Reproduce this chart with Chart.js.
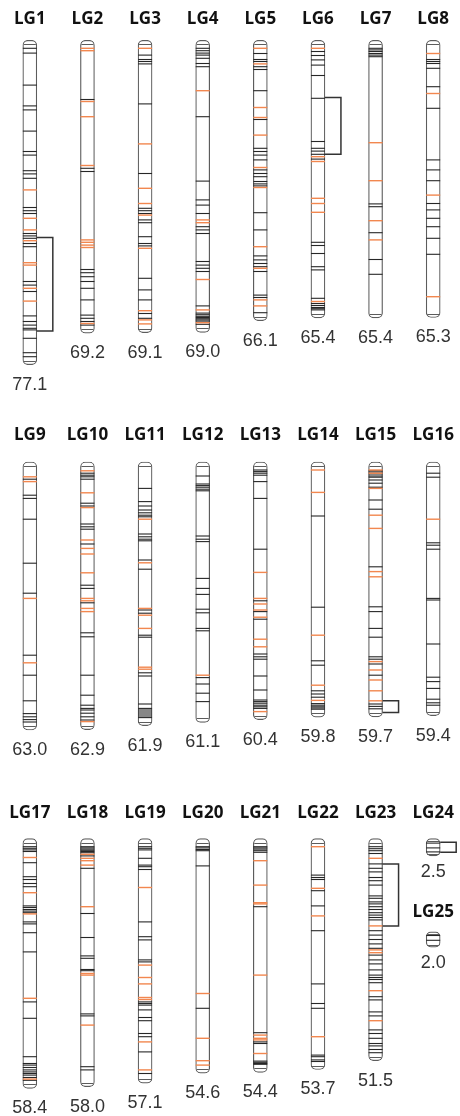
<!DOCTYPE html>
<html>
<head>
<meta charset="utf-8">
<script src="https://cdn.jsdelivr.net/npm/chart.js@4.4.1/dist/chart.umd.min.js"></script>
<style>
  html, body { margin: 0; padding: 0; background: #fff; overflow: hidden; }
  #wrap { position: relative; width: 460px; height: 1116px; overflow: hidden; }
  canvas { position: absolute; left: 0; }
</style>
</head>
<body>
<div id="wrap">
  <canvas id="row1" width="462" height="395" style="top:0px"></canvas>
  <canvas id="row2" width="462" height="375" style="top:395px"></canvas>
  <canvas id="row3" width="462" height="346" style="top:770px"></canvas>
</div>
<script>
// linkage groups, lengths in cM
const lgNames = ['LG1','LG2','LG3','LG4','LG5','LG6','LG7','LG8',
                 'LG9','LG10','LG11','LG12','LG13','LG14','LG15','LG16',
                 'LG17','LG18','LG19','LG20','LG21','LG22','LG23','LG24','LG25'];
const lgLengths = [77.1, 69.2, 69.1, 69.0, 66.1, 65.4, 65.4, 65.3,
                   63.0, 62.9, 61.9, 61.1, 60.4, 59.8, 59.7, 59.4,
                   58.4, 58.0, 57.1, 54.6, 54.4, 53.7, 51.5, 2.5, 2.0];

// marker positions (cM), black = ordinary loci
const blackLoci = [
  [0, 1.2, 9.2, 14.4, 15.4, 20.7, 25.8, 26.7, 30.6, 31.4, 32.5, 39.8, 40.6, 41.3, 46.3, 46.9, 47.5, 48.8, 49.6, 58.3, 59.2, 60.8, 66.9, 68.3, 69.2, 70.0, 70.4, 72.5, 76.1, 77.1],
  [12.8, 30.0, 30.8, 55.3, 56.1, 57.1, 58.3, 60.0, 62.9, 66.7, 67.5, 68.3, 69.2],
  [1.7, 2.8, 3.3, 3.9, 13.9, 31.3, 40.0, 40.6, 41.3, 42.9, 43.6, 47.1, 48.8, 49.4, 57.5, 60.4, 62.9, 66.3, 67.5],
  [0, 0.6, 1.2, 1.7, 2.5, 3.8, 4.6, 17.1, 33.2, 37.9, 39.2, 41.3, 44.6, 45.4, 46.3, 53.3, 54.2, 55.0, 55.8, 64.4, 66.2, 66.6, 67.0, 67.3, 67.6, 67.9, 68.2, 69.0],
  [1.3, 2.8, 3.3, 4.6, 5.3, 10.6, 17.8, 25.0, 25.8, 26.7, 27.9, 30.4, 31.3, 32.1, 33.3, 33.9, 34.4, 41.1, 45.4, 51.9, 52.9, 53.8, 54.6, 55.8, 61.7, 62.3, 66.1],
  [0.8, 1.8, 2.9, 4.2, 6.8, 12.5, 23.3, 25.0, 25.7, 26.5, 27.7, 48.5, 49.3, 51.3, 54.6, 55.4, 62.5, 63.8, 64.3, 64.8, 65.1, 65.4],
  [0, 0.4, 0.8, 1.3, 1.7, 2.1, 38.9, 39.6, 46.1, 52.8, 56.5],
  [2.8, 3.3, 3.8, 5.0, 9.6, 15.0, 27.9, 30.4, 33.1, 38.8, 40.4, 42.5, 44.6, 47.5, 51.5],
  [2.3, 6.3, 7.1, 12.3, 23.3, 30.8, 46.3, 51.3, 57.7, 60.9, 61.7, 62.4, 63.0],
  [0.8, 1.3, 1.7, 2.3, 8.3, 9.0, 13.5, 14.2, 14.8, 18.5, 28.8, 29.6, 33.2, 40.7, 41.7, 51.3, 56.3, 58.8, 59.6, 60.0, 60.8, 61.7, 62.5],
  [4.6, 7.9, 9.0, 10.0, 10.7, 11.3, 11.7, 16.0, 16.7, 17.3, 17.7, 22.5, 24.8, 35.0, 35.8, 41.3, 41.8, 50.7, 51.5, 58.5, 59.6, 60.0, 60.5, 61.0, 61.5, 61.9],
  [1.5, 3.5, 3.9, 4.3, 4.8, 5.2, 16.5, 17.3, 17.9, 27.1, 29.6, 31.1, 34.8, 35.7, 39.6, 40.2, 51.9, 53.5, 55.8, 57.9],
  [0, 0.4, 0.8, 1.3, 2.9, 7.1, 19.8, 32.7, 35.4, 37.3, 46.0, 46.7, 47.3, 51.5, 55.0, 57.5, 57.9, 58.3, 58.8, 59.2, 59.6],
  [11.5, 34.3, 47.7, 48.8, 55.2, 56.0, 56.8, 58.4, 58.8, 59.2, 59.5, 59.8],
  [0.2, 0.5, 1.0, 1.5, 1.8, 2.5, 3.3, 4.3, 7.5, 9.8, 24.2, 34.2, 35.4, 39.6, 41.8, 46.7, 47.3, 48.5, 51.3, 58.5, 59.1, 59.7],
  [0.8, 1.8, 18.2, 18.8, 19.8, 32.1, 32.5, 43.5, 51.8, 52.9, 54.6, 57.3, 58.2, 58.8],
  [0, 0.4, 0.8, 1.2, 4.0, 7.5, 8.2, 9.2, 10.0, 14.8, 15.2, 15.7, 16.1, 16.5, 18.8, 19.3, 21.5, 26.3, 38.8, 42.9, 52.5, 54.2, 54.6, 55.2, 55.8, 56.3, 56.7, 57.1, 57.7, 58.4],
  [0, 0.3, 0.6, 0.9, 1.2, 1.5, 2.3, 5.4, 16.7, 22.7, 27.3, 27.9, 30.7, 31.0, 41.8, 42.3, 55.0, 55.8],
  [0, 0.4, 0.8, 2.9, 4.6, 5.0, 5.7, 18.8, 22.5, 23.3, 28.3, 28.8, 38.8, 39.2, 39.6, 40.8, 42.7, 43.5, 46.7, 47.5, 51.3, 56.7],
  [0, 0.3, 0.7, 1.0, 4.8, 40.4],
  [0, 0.3, 0.6, 1.0, 1.4, 15.0, 46.5, 48.8, 49.2, 53.6, 53.9, 54.2, 54.4],
  [7.1, 7.7, 8.2, 11.0, 14.8, 21.0, 34.3, 39.2, 40.4, 52.1, 52.5, 53.3, 53.7],
  [0, 0.5, 1.0, 1.7, 4.3, 5.4, 6.3, 7.7, 8.5, 9.6, 12.3, 12.9, 13.8, 14.3, 15.0, 15.7, 16.5, 17.1, 17.7, 18.3, 21.0, 22.1, 23.2, 24.3, 25.4, 27.1, 28.3, 29.3, 30.8, 32.1, 32.7, 33.2, 34.0, 37.5, 38.3, 41.3, 42.3, 45.8, 46.7, 47.9, 49.2, 49.8, 50.7, 51.5],
  [0.2, 1.4, 2.4],
  [0, 1.2]
];

// orange loci
const orangeLoci = [
  [35.4, 42.5, 45.4, 48.1, 53.6, 54.2, 60.0, 63.2],
  [0, 0.6, 13.3, 17.1, 29.3, 47.9, 48.5, 49.2, 49.8, 68.8],
  [0, 23.9, 35.0, 38.8, 41.7, 50.0, 65.6, 67.9, 68.9],
  [10.6, 42.9, 43.6, 57.8, 65.4, 68.6],
  [0, 3.9, 14.8, 17.3, 21.7, 29.8, 34.8, 49.6, 55.0, 62.9, 64.4],
  [0, 27.1, 28.3, 37.5, 38.8, 41.0, 63.3],
  [23.6, 33.1, 43.1, 47.9],
  [1.3, 11.3, 36.7, 62.1],
  [1.7, 2.9, 32.1, 48.2],
  [0.2, 5.7, 9.4, 17.5, 19.6, 21.0, 25.7, 32.1, 32.7, 34.6, 35.4, 62.9],
  [12.3, 23.2, 34.6, 36.3, 39.6, 49.3, 49.8],
  [51.3],
  [25.6, 32.1, 33.5, 35.0, 36.8, 42.3, 44.2, 60.4],
  [0, 5.6, 41.3, 53.8, 57.6],
  [0, 0.8, 4.6, 11.3, 14.6, 25.4, 26.7, 47.9, 50.0, 52.5, 55.2, 57.7],
  [12.3],
  [2.7, 11.5, 16.8, 37.9, 58.1],
  [1.9, 2.9, 3.5, 4.6, 15.0, 31.7, 32.1, 44.6],
  [10.2, 29.6, 32.7, 34.3, 37.7, 38.2, 48.8, 55.8],
  [36.7, 47.9, 53.5, 54.6],
  [3.5, 9.6, 14.0, 14.3, 32.1, 47.1, 47.9, 48.3, 51.7],
  [0, 10.4, 17.3, 47.5],
  [2.9, 19.8, 25.8, 26.5, 36.0, 43.5],
  [],
  []
];

// brackets beside some groups (cM range)
const brackets = [
  { lg: 'LG1', from: 47.3, to: 70.7 },
  { lg: 'LG6', from: 12.3, to: 26.5 },
  { lg: 'LG15', from: 57.7, to: 60.6 },
  { lg: 'LG23', from: 4.3, to: 19.8 },
  { lg: 'LG24', from: 0, to: 2.5 }
];

// layout
const PX_PER_CM = 4;
const BAR_W = 14;
const BLACK = '#262626';
const ORANGE = '#f2874f';
const OUTLINE = '#5c5c5c';
const rows = [
  { id: 'row1', names: lgNames.slice(0, 8), top: 0, height: 395, zeroY: 48.3, titleGap: 21 },
  { id: 'row2', names: lgNames.slice(8, 16), top: 395, height: 375, zeroY: 470, titleGap: 27 },
  { id: 'row3', names: lgNames.slice(16, 24), top: 770, height: 346, zeroY: 846.7, titleGap: 26 }
];
const stackedLGs = [{ name: 'LG25', under: 'LG24' }];
const lgOffset = { LG24: -1.1, LG25: 22.2 };

function capOf(len) { return len < 5 ? 0.9 : 2; }

function buildRow(row) {
  const cols = row.names;
  const members = cols.map((n, c) => ({ name: n, col: c }));
  stackedLGs.filter(s => cols.includes(s.under))
    .forEach(s => members.push({ name: s.name, col: cols.indexOf(s.under), stacked: true }));
  members.forEach(m => {
    const i = lgNames.indexOf(m.name);
    m.len = lgLengths[i];
    m.black = blackLoci[i];
    m.orange = orangeLoci[i];
    m.off = lgOffset[m.name] || 0;
    m.cap = capOf(m.len);
  });

  const barStyle = {
    type: 'bar', backgroundColor: '#fff', borderColor: OUTLINE, borderWidth: 1.2,
    borderSkipped: false, borderRadius: 5, barThickness: BAR_W, grouped: false, order: 2
  };
  const markerStyle = {
    type: 'line', showLine: false, pointStyle: 'line', pointRadius: BAR_W / 2,
    pointHoverRadius: BAR_W / 2
  };

  const datasets = [
    Object.assign({}, markerStyle, {
      data: members.flatMap(m => m.orange.map(v => ({ x: cols[m.col], y: m.off + v }))),
      pointBorderColor: ORANGE, pointBackgroundColor: ORANGE, pointBorderWidth: 1.4, order: 0
    }),
    Object.assign({}, markerStyle, {
      data: members.flatMap(m => m.black.map(v => ({ x: cols[m.col], y: m.off + v }))),
      pointBorderColor: BLACK, pointBackgroundColor: BLACK, pointBorderWidth: 1.1, order: 1
    }),
    Object.assign({}, barStyle, {
      data: members.filter(m => !m.stacked).map(m => [m.off - m.cap, m.off + m.len + m.cap])
    })
  ];
  members.filter(m => m.stacked).forEach(m => {
    const d = cols.map(() => null);
    d[m.col] = [m.off - m.cap, m.off + m.len + m.cap];
    datasets.push(Object.assign({}, barStyle, { data: d }));
  });

  const decor = {
    id: 'lgDecor',
    afterDatasetsDraw(chart) {
      const { ctx, scales: { x, y } } = chart;
      const half = BAR_W / 2;
      ctx.save();
      ctx.textAlign = 'center';
      ctx.textBaseline = 'middle';
      members.forEach(m => {
        const cx = x.getPixelForValue(m.col);
        const yTop = y.getPixelForValue(m.off - m.cap);
        const yBot = y.getPixelForValue(m.off + m.len + m.cap);
        // seams between the rounded ends and the body
        ctx.strokeStyle = OUTLINE;
        ctx.lineWidth = 1;
        [m.off - m.cap / 2, m.off + m.len + m.cap / 2].forEach(v => {
          const py = Math.round(y.getPixelForValue(v)) + 0.5;
          ctx.beginPath();
          ctx.moveTo(cx - half + 1, py);
          ctx.lineTo(cx + half - 1, py);
          ctx.stroke();
        });
        ctx.fillStyle = '#333';
        ctx.font = '18px "Liberation Sans", Arial, sans-serif';
        ctx.fillText(m.len.toFixed(1), cx, yBot + (m.cap < 2 ? 16 : 20));
        ctx.fillStyle = '#111';
        ctx.font = 'bold 17px "Open Sans", sans-serif';
        ctx.fillText(m.name, cx, yTop - (m.stacked ? 20 : row.titleGap));
      });
      ctx.strokeStyle = '#333';
      ctx.lineWidth = 1.5;
      brackets.forEach(b => {
        const m = members.find(mm => mm.name === b.lg);
        if (!m) return;
        const x0 = x.getPixelForValue(m.col) + half;
        const x1 = x0 + 16;
        const y0 = y.getPixelForValue(m.off + b.from);
        const y1 = y.getPixelForValue(m.off + b.to);
        ctx.beginPath();
        ctx.moveTo(x0, y0);
        ctx.lineTo(x1, y0);
        ctx.lineTo(x1, y1);
        ctx.lineTo(x0, y1);
        ctx.stroke();
      });
      ctx.restore();
    }
  };

  const yMin = -(row.zeroY - row.top) / PX_PER_CM;
  new Chart(document.getElementById(row.id), {
    type: 'bar',
    data: { labels: cols, datasets: datasets },
    options: {
      responsive: false,
      animation: false,
      events: [],
      layout: { autoPadding: false, padding: { left: 1, right: 0, top: 0, bottom: 0 } },
      plugins: { legend: { display: false }, tooltip: { enabled: false } },
      scales: {
        x: { type: 'category', display: false, offset: true },
        y: { type: 'linear', display: false, reverse: true, min: yMin, max: yMin + row.height / PX_PER_CM }
      }
    },
    plugins: [decor]
  });
}

rows.forEach(buildRow);
</script>
</body>
</html>
